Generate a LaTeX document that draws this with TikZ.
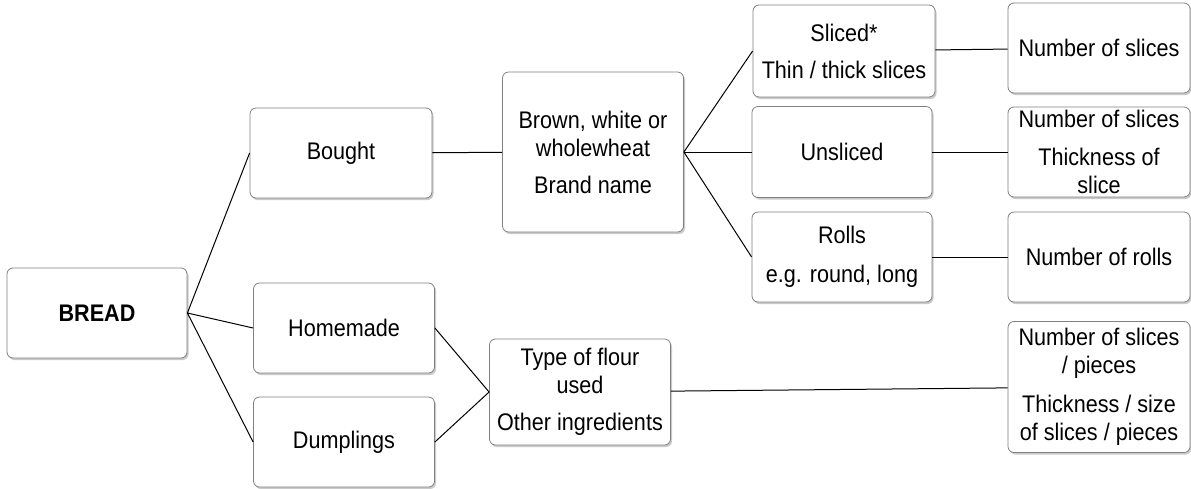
\documentclass[tikz,border=0pt]{standalone}
\usepackage{fontspec}
\setmainfont{Liberation Sans}[FakeStretch=0.9]
\usetikzlibrary{positioning,
        shapes,
        shadows}

\begin{document}
\begin{tikzpicture}[x=1pt,y=-1pt,
    box/.style={draw=black!50,line width=0.8pt,rounded corners=6pt,fill=white,align=center,inner sep=0pt,
        font=\fontsize{24}{28}\selectfont,
        drop shadow={shadow xshift=1.5pt,shadow yshift=-2pt,fill=black!35,opacity=0.6}},
    link/.style={line width=1pt}]
            \useasboundingbox (0,0) rectangle (1191,488);
            \node [box,minimum width=180,minimum height=90] (bread) at (97,313) {\textbf{BREAD}};
            \node [box,minimum width=182,minimum height=90] (bought) at (341,153) {Bought};
            \node [box,minimum width=181,minimum height=90] (homemade) at (344,328) {Homemade};
            \node [box,minimum width=181,minimum height=90] (dumplings) at (344,442) {Dumplings};
            \node [box,minimum width=181,minimum height=160] (brown) at (593,152) {Brown, white or\\wholewheat\\[9pt]Brand name};
            \node [box,minimum width=181,minimum height=106] (flour) at (580,392) {Type of flour\\used\\[9pt]Other ingredients};
            \node [box,minimum width=182,minimum height=92] (sliced) at (844,51) {Sliced*\\[9pt]Thin / thick slices};
            \node [box,minimum width=180,minimum height=91] (unsliced) at (842,152) {Unsliced};
            \node [box,minimum width=180,minimum height=90] (rolls) at (842,257) {Rolls\\[11pt]e.g. round, long};
            \node [box,minimum width=182,minimum height=90] (nslices) at (1099,48) {Number of slices};
            \node [box,minimum width=182,minimum height=90] (thickness) at (1099,152) {Number of slices\\[10pt]Thickness of\\slice};
            \node [box,minimum width=182,minimum height=90] (nrolls) at (1099,257) {Number of rolls};
            \node [box,minimum width=182,minimum height=131] (pieces) at (1099,387) {Number of slices\\/ pieces\\[11pt]Thickness / size\\of slices / pieces};

            \draw [link] (bread.east) -- (bought.west);
            \draw [link] (bread.east) -- (homemade.west);
            \draw [link] (bread.east) -- (dumplings.west);
            \draw [link] (bought) -- (brown);
            \draw [link] (homemade.east) -- (flour.west);
            \draw [link] (dumplings.east) -- (flour.west);
            \draw [link] (brown.east) -- (sliced.west);
            \draw [link] (brown.east) -- (unsliced.west);
            \draw [link] (brown.east) -- (rolls.west);
            \draw [link] (sliced) -- (nslices);
            \draw [link] (unsliced) -- (thickness);
            \draw [link] (rolls) -- (nrolls);
            \draw [link] (flour) -- (pieces);
        \end{tikzpicture}
\end{document}
